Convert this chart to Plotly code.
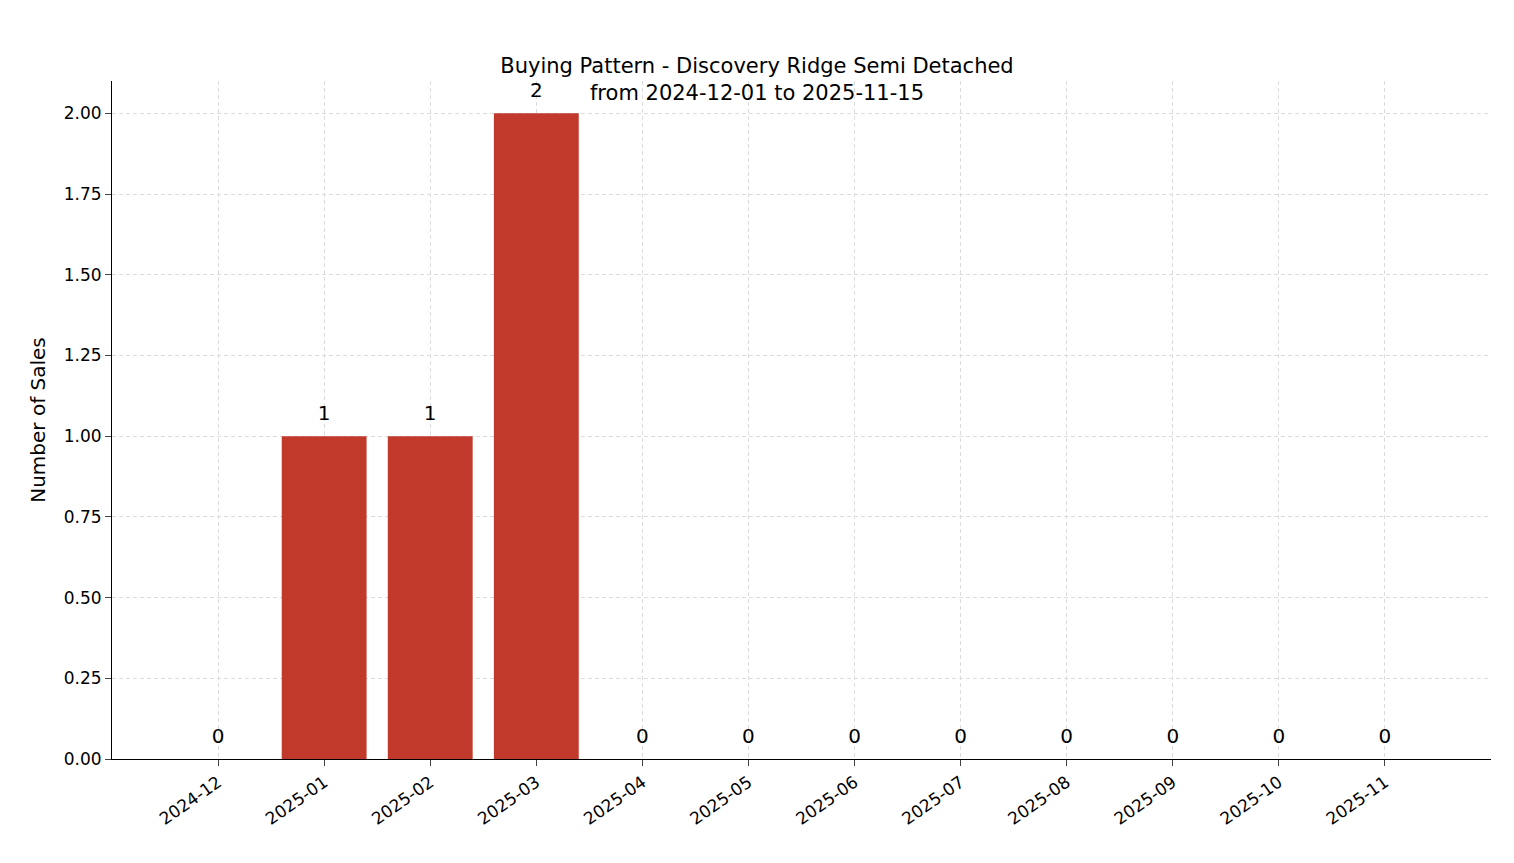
import plotly.graph_objects as go

# Monthly sales counts
months = ["2024-12", "2025-01", "2025-02", "2025-03", "2025-04", "2025-05",
          "2025-06", "2025-07", "2025-08", "2025-09", "2025-10", "2025-11"]
sales = [0, 1, 1, 2, 0, 0, 0, 0, 0, 0, 0, 0]

idx = list(range(len(months)))

fig = go.Figure()
fig.add_trace(go.Bar(x=idx, y=sales, width=0.8, marker_color="#c0392b",
                     marker_line_width=0, showlegend=False))
# value labels above each bar (invisible marker pushes text up a bit)
fig.add_trace(go.Scatter(x=idx, y=sales, mode="markers+text", text=[str(v) for v in sales],
                         textposition="top center", marker=dict(size=16, opacity=0),
                         textfont=dict(size=20, color="black"), showlegend=False,
                         cliponaxis=False))

fig.update_layout(
    autosize=True,
    plot_bgcolor="white", paper_bgcolor="white",
    font=dict(family="DejaVu Sans", size=17, color="black"),
    margin=dict(l=104, r=15, t=73, b=96),
    title=dict(text="Buying Pattern - Discovery Ridge Semi Detached<br>from 2024-12-01 to 2025-11-15",
               x=0.5, xanchor="center", y=1, yref="paper", yanchor="bottom",
               pad=dict(b=8), font=dict(size=21)),
)
fig.update_xaxes(range=[-1, 12], tickmode="array", tickvals=idx, ticktext=months,
                 tickangle=-35, ticks="outside", ticklen=6, showline=True,
                 linecolor="black", showgrid=True, gridcolor="#dcdcdc",
                 griddash="4px,3px", gridwidth=1, zeroline=False)
fig.update_yaxes(range=[0, 2.1], dtick=0.25, tickformat=".2f", ticks="outside",
                 ticklen=6, showline=True, linecolor="black", showgrid=True,
                 gridcolor="#dcdcdc", griddash="4px,3px", gridwidth=1, zeroline=False,
                 title=dict(text="Number of Sales", standoff=12))

fig.write_html("out.html", config=dict(responsive=True))
